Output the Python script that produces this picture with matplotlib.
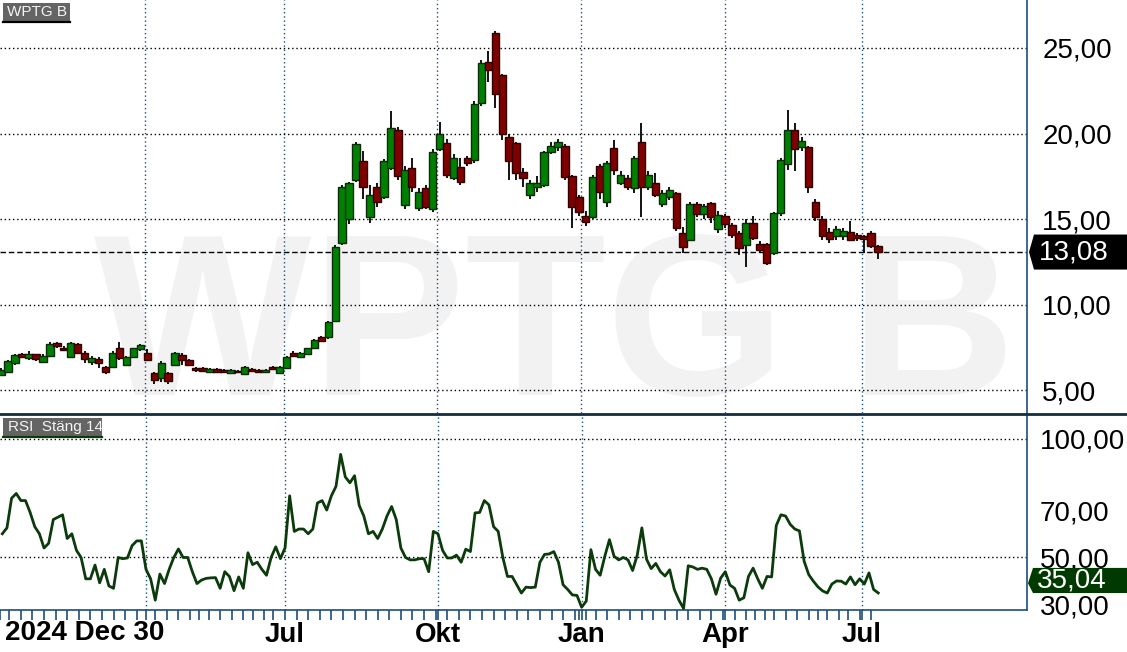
import numpy as np
import pandas as pd
import matplotlib
matplotlib.use('Agg')
import matplotlib.pyplot as plt
import matplotlib.transforms as mtransforms
from matplotlib.patches import Polygon, Rectangle
from matplotlib.lines import Line2D

plt.rcParams['font.family'] = ['Liberation Sans', 'DejaVu Sans']

ticker = 'WPTG B'
rsi_title = 'RSI  Stäng 14'
start_label = '2024 Dec 30'

# Stockholm exchange holidays in the period
holidays = ['2024-01-01', '2024-03-29', '2024-04-01', '2024-05-01', '2024-05-09',
            '2024-06-06', '2024-06-21', '2024-12-24', '2024-12-25', '2024-12-26',
            '2024-12-31', '2025-01-01', '2025-01-06', '2025-04-18', '2025-04-21',
            '2025-05-01', '2025-05-29', '2025-06-06', '2025-06-20']
quarter_starts = ['2024-04-01', '2024-07-01', '2024-10-01', '2025-01-01', '2025-04-01', '2025-07-01']
quarter_labels = ['', 'Jul', 'Okt', 'Jan', 'Apr', 'Jul']

price_ticks = [5, 10, 15, 20, 25]
rsi_ticks = [100, 70, 50, 30]

# candles, one per three trading days
opens = [5.9, 6.1, 6.6, 7.1, 6.9, 7.1, 6.65, 7.0, 7.75, 7.5,
         6.95, 7.7, 7.2, 6.65, 6.85, 6.35, 6.35, 7.5, 6.5, 6.95,
         7.4, 7.2, 6.0, 5.7, 6.0, 6.5, 7.05, 6.8, 6.3, 6.3,
         6.05, 6.25, 6.2, 6.0, 6.15, 5.95, 6.25, 6.2, 6.05, 6.35,
         6.0, 6.3, 7.2, 6.95, 7.1, 7.5, 8.1, 8.1, 9.05, 13.6,
         15.0, 17.3, 18.4, 15.1, 16.9, 16.3, 18.0, 20.2, 15.8, 18.0,
         15.65, 16.8, 15.6, 19.1, 19.45, 17.4, 18.05, 18.6, 18.45, 21.8,
         24.2, 25.9, 23.4, 19.8, 19.45, 17.75, 16.4, 16.9, 17.0, 18.9,
         19.2, 19.3, 17.5, 16.3, 15.2, 15.1, 18.1, 16.0, 19.15, 17.1,
         17.4, 16.8, 19.5, 16.9, 17.1, 15.9, 16.3, 16.5, 14.2, 13.8,
         15.9, 15.3, 15.95, 14.4, 15.2, 14.66, 14.2, 13.5, 14.8, 13.55,
         13.55, 13.0, 15.35, 18.2, 20.2, 19.2, 19.2, 16.0, 15.0, 14.25,
         14.0, 14.0, 14.25, 14.1, 14.0, 14.2, 13.45]
highs = [6.3, 6.8, 7.1, 7.2, 7.3, 7.15, 7.1, 7.8, 7.85, 7.6,
         7.8, 7.75, 7.3, 7.0, 6.95, 6.4, 7.3, 7.8, 7.0, 7.5,
         7.7, 7.4, 6.1, 6.7, 6.1, 7.25, 7.2, 6.85, 6.35, 6.35,
         6.3, 6.3, 6.25, 6.25, 6.2, 6.4, 6.3, 6.25, 6.25, 6.4,
         6.4, 7.0, 7.3, 7.25, 7.5, 8.0, 8.2, 9.05, 13.5, 17.0,
         17.2, 19.5, 19.0, 17.0, 17.1, 18.5, 21.3, 20.4, 18.1, 18.6,
         16.8, 17.0, 19.1, 20.7, 19.7, 18.8, 18.6, 18.7, 21.9, 24.3,
         24.8, 26.0, 23.5, 20.0, 19.5, 18.0, 17.3, 17.5, 19.0, 19.5,
         19.7, 19.4, 17.6, 16.4, 15.5, 17.6, 18.2, 18.4, 19.6, 17.8,
         17.6, 18.7, 20.6, 17.8, 17.7, 16.7, 16.9, 16.6, 14.55, 16.0,
         16.0, 15.9, 16.0, 15.5, 15.3, 14.8, 14.3, 15.0, 15.2, 13.7,
         13.6, 15.4, 18.6, 21.4, 20.6, 19.8, 19.3, 16.2, 15.2, 14.5,
         14.6, 14.5, 14.9, 14.2, 14.1, 14.3, 13.5]
lows = [5.85, 6.0, 6.5, 6.9, 6.8, 6.7, 6.6, 6.95, 7.5, 7.3,
        6.9, 7.1, 6.6, 6.5, 6.3, 5.95, 6.3, 6.8, 6.4, 6.9,
        7.3, 6.7, 5.4, 5.5, 5.4, 6.45, 6.5, 6.4, 6.1, 6.1,
        6.0, 6.05, 6.0, 5.95, 6.0, 5.9, 6.1, 6.0, 6.0, 6.2,
        5.95, 6.25, 6.95, 6.9, 7.05, 7.45, 7.85, 8.0, 9.0, 13.5,
        14.7, 17.2, 16.2, 14.8, 15.7, 16.2, 17.9, 17.3, 15.6, 16.6,
        15.5, 15.6, 15.4, 19.0, 17.4, 17.3, 17.0, 18.1, 18.3, 21.6,
        23.0, 21.5, 19.6, 17.3, 17.3, 16.9, 16.2, 16.6, 16.9, 18.8,
        19.0, 17.3, 14.5, 15.2, 14.6, 15.0, 16.2, 15.7, 17.6, 17.0,
        16.7, 16.5, 15.1, 16.7, 16.3, 15.7, 16.1, 14.3, 13.0, 13.7,
        15.1, 15.0, 14.8, 14.2, 14.5, 13.9, 12.9, 12.2, 13.8, 13.0,
        12.3, 12.9, 15.2, 17.9, 17.8, 19.0, 16.5, 14.9, 13.8, 13.6,
        13.8, 13.8, 13.7, 13.7, 13.0, 13.3, 12.7]
closes = [6.2, 6.7, 7.05, 6.95, 7.15, 6.85, 7.0, 7.7, 7.6, 7.35,
          7.75, 7.2, 6.85, 6.9, 6.6, 6.05, 7.2, 6.9, 6.95, 7.45,
          7.65, 6.8, 5.6, 6.6, 5.55, 7.2, 6.8, 6.5, 6.2, 6.15,
          6.25, 6.1, 6.05, 6.2, 6.05, 6.35, 6.15, 6.05, 6.2, 6.25,
          6.35, 6.95, 7.0, 7.2, 7.45, 7.95, 7.9, 9.0, 13.4, 16.9,
          17.1, 19.4, 16.9, 16.4, 16.0, 18.4, 20.3, 17.5, 17.9, 16.9,
          16.6, 15.7, 18.9, 20.0, 17.6, 18.6, 17.2, 18.3, 21.7, 24.1,
          23.7, 22.3, 20.0, 18.4, 17.7, 17.4, 17.1, 17.1, 18.9, 19.3,
          19.5, 17.45, 15.7, 15.4, 14.85, 17.45, 16.6, 18.3, 17.9, 17.6,
          16.9, 18.6, 16.9, 17.6, 16.4, 16.5, 16.7, 14.5, 13.4, 15.9,
          15.3, 15.75, 15.1, 15.25, 14.7, 14.1, 13.3, 14.8, 13.9, 13.2,
          12.45, 15.35, 18.45, 20.2, 19.1, 19.55, 16.9, 15.1, 14.0, 13.85,
          14.4, 14.3, 13.8, 13.9, 13.85, 13.45, 13.08]

# RSI 14, one value per two trading days
rsi = [60, 62.5, 75, 77, 74, 74, 69, 63, 60, 54,
       56, 66, 67, 68, 58, 60, 53, 50, 41, 41,
       46.8, 39.3, 45, 38, 37, 50, 49.5, 49.8, 55, 57,
       57, 45, 41, 32, 43, 39, 45, 50, 53.6, 50,
       50, 44, 39, 40.5, 41.2, 41.4, 41.5, 37, 44, 42,
       36, 41.8, 37, 52, 47, 48, 45, 42.5, 50, 54.5,
       49.5, 54, 76, 61, 62, 62, 60, 62, 73, 74,
       70, 76, 80, 93.5, 84, 81.5, 84.5, 72, 67.5, 60,
       61, 58, 62, 67.5, 71.5, 66, 54, 50, 49, 49,
       49.5, 49.5, 44, 61, 60, 53, 49.8, 49.8, 51, 48,
       53.5, 52.5, 68.8, 69, 74, 72.2, 63, 61, 50, 42,
       42, 38.5, 35, 37.5, 37.3, 37.5, 48, 51.3, 51.5, 52.5,
       48, 38.5, 36.5, 34.2, 34, 29, 31.6, 53.3, 45, 42.5,
       50.5, 57.5, 50.5, 49, 50, 49, 44.5, 51, 62.5, 49.3,
       45.3, 47.5, 44, 42.2, 44.8, 36.5, 32, 28.5, 46.5, 46,
       45, 45.5, 45, 41, 34.5, 41.3, 44, 38.4, 37, 32,
       33, 42, 45.5, 41, 37, 42, 41.8, 63.5, 68, 67.5,
       64, 62, 61.2, 48.5, 42.8, 40, 37.6, 35.9, 35, 38.8,
       40.1, 40, 38.8, 41.8, 38.5, 41, 38.8, 43.5, 36.5, 35.04]
last_price = 13.08
last_rsi = 35.04

GRID_BLUE = '#1f4e79'
UP = '#008000'
DOWN = '#800000'


def fmt(v):
    return f'{v:.2f}'.replace('.', ',')


def fx(px):
    return px / 1127


def fy(py):
    return 1 - py / 652


days = pd.bdate_range('2024-01-02', '2025-07-10', freq='C', holidays=holidays)
last = len(days) - 1
q_idx = [days.searchsorted(pd.Timestamp(q)) for q in quarter_starts]
periods = days.to_period('W')
week_idx = [i for i in range(len(days)) if i == 0 or periods[i] != periods[i - 1]]

n = len(closes)
candle_x = [last - 3 * (n - 1 - k) for k in range(n)]
rsi_x = [last - 2 * (len(rsi) - 1 - k) for k in range(len(rsi))]

fig = plt.figure(figsize=(11.27, 6.52), dpi=100)
ax = fig.add_axes([0, fy(413), fx(1027), 413 / 652])
ax_rsi = fig.add_axes([0, fy(610), fx(1027), 195 / 652])

xlim = (0.5, 443.2)

# price panel
ax.set_xlim(xlim)
ax.set_ylim(3.68, 27.8)
ax.text(0.54, 1 - 395 / 413, ticker, transform=ax.transAxes, fontsize=166, fontweight='bold',
        color='#f2f2f2', ha='center', va='baseline', zorder=0)
for q in q_idx:
    ax.axvline(q, color=GRID_BLUE, ls=(0, (1, 2)), lw=1, zorder=1)
for p in price_ticks:
    ax.axhline(p, color='black', ls=(0, (1, 2)), lw=1, zorder=1)
ax.axhline(last_price, color='black', ls=(0, (4, 2)), lw=1, zorder=1)

w = 3.2
for k, (x, o, h, l, c) in enumerate(zip(candle_x, opens, highs, lows, closes)):
    up = c >= o
    z = 2 + k * 0.01
    ax.vlines(x, l, h, color='black', lw=1.3, zorder=z)
    ax.bar(x, max(abs(c - o), 0.06), bottom=min(o, c), width=w,
           color=UP if up else DOWN, edgecolor='#0d2a0d' if up else '#2e0000',
           lw=1, zorder=z + 0.005)

ax.set_xticks([])
ax.yaxis.tick_right()
ax.set_yticks(price_ticks)
ax.set_yticklabels([fmt(p) for p in price_ticks])
ax.tick_params(axis='y', length=0, pad=11, labelsize=20)
for s in ['top', 'left', 'bottom']:
    ax.spines[s].set_visible(False)
ax.spines['right'].set_color(GRID_BLUE)
ax.spines['right'].set_linewidth(1.2)

# last price tag
tr = mtransforms.blended_transform_factory(fig.transFigure, ax.transData)
hh = 17.5 / 17.12
ax.add_patch(Polygon([(fx(1029), last_price), (fx(1034), last_price + hh), (fx(1127), last_price + hh),
                      (fx(1127), last_price - hh), (fx(1034), last_price - hh)],
                     closed=True, facecolor='black', edgecolor='none', transform=tr, clip_on=False, zorder=5))
ax.text(fx(1039), last_price, fmt(last_price), transform=tr, color='white', fontsize=20,
        va='center', ha='left', zorder=6, clip_on=False)

# RSI panel
ax_rsi.set_xlim(xlim)
ax_rsi.set_ylim(27.85, 110.1)
for q in q_idx:
    ax_rsi.axvline(q, color=GRID_BLUE, ls=(0, (1, 2)), lw=1, zorder=1)
for v in [100, 50]:
    ax_rsi.axhline(v, color='black', ls=(0, (1, 2)), lw=1, zorder=1)
ax_rsi.plot(rsi_x, rsi, color='#0b3a0b', lw=2, zorder=3)

ax_rsi.yaxis.tick_right()
ax_rsi.set_yticks(rsi_ticks)
ax_rsi.set_yticklabels([fmt(v) for v in rsi_ticks])
ax_rsi.tick_params(axis='y', length=0, pad=9, labelsize=20)
ax_rsi.set_xticks(q_idx)
ax_rsi.set_xticklabels(quarter_labels)
ax_rsi.set_xticks(week_idx, minor=True)
ax_rsi.tick_params(axis='x', which='both', direction='out', length=7, width=1.2,
                   color=GRID_BLUE, labelsize=20, pad=2)
for lbl in ax_rsi.get_xticklabels():
    lbl.set_fontweight('bold')
for s in ['top', 'left']:
    ax_rsi.spines[s].set_visible(False)
for s in ['right', 'bottom']:
    ax_rsi.spines[s].set_color(GRID_BLUE)
    ax_rsi.spines[s].set_linewidth(1.2)

tr2 = mtransforms.blended_transform_factory(fig.transFigure, ax_rsi.transData)
rc, rh = 40.3, 5.3
ax_rsi.add_patch(Polygon([(fx(1028), rc - 1.2), (fx(1033), rc + rh), (fx(1127), rc + rh),
                          (fx(1127), rc - rh), (fx(1033), rc - rh)],
                         closed=True, facecolor='#003a00', edgecolor='none', transform=tr2,
                         clip_on=False, zorder=5))
ax_rsi.text(fx(1037), rc, fmt(last_rsi), transform=tr2, color='white', fontsize=20,
            va='center', ha='left', zorder=6, clip_on=False)

# panel separator
fig.add_artist(Line2D([0, 1], [fy(414), fy(414)], transform=fig.transFigure, color='#0f2f3d', lw=2))

# title tags
fig.add_artist(Rectangle((fx(3), fy(21)), fx(67), 18 / 652, transform=fig.transFigure,
                         facecolor='#646464', edgecolor='none'))
fig.add_artist(Line2D([fx(3), fx(70)], [fy(22), fy(22)], transform=fig.transFigure, color='black', lw=1.6))
fig.text(fx(7), fy(12), ticker, color='#f4f4f4', fontsize=11, va='center', ha='left')

fig.add_artist(Rectangle((fx(3), fy(436)), fx(99), 18 / 652, transform=fig.transFigure,
                         facecolor='#646464', edgecolor='none'))
fig.add_artist(Line2D([fx(3), fx(102)], [fy(437), fy(437)], transform=fig.transFigure, color='#0b3a0b', lw=1.6))
fig.text(fx(8), fy(427), rsi_title, color='#f4f4f4', fontsize=11, va='center', ha='left')

fig.text(fx(5), fy(633), start_label, fontsize=20, fontweight='bold', va='center', ha='left')

fig.savefig('out.png', dpi=100)
